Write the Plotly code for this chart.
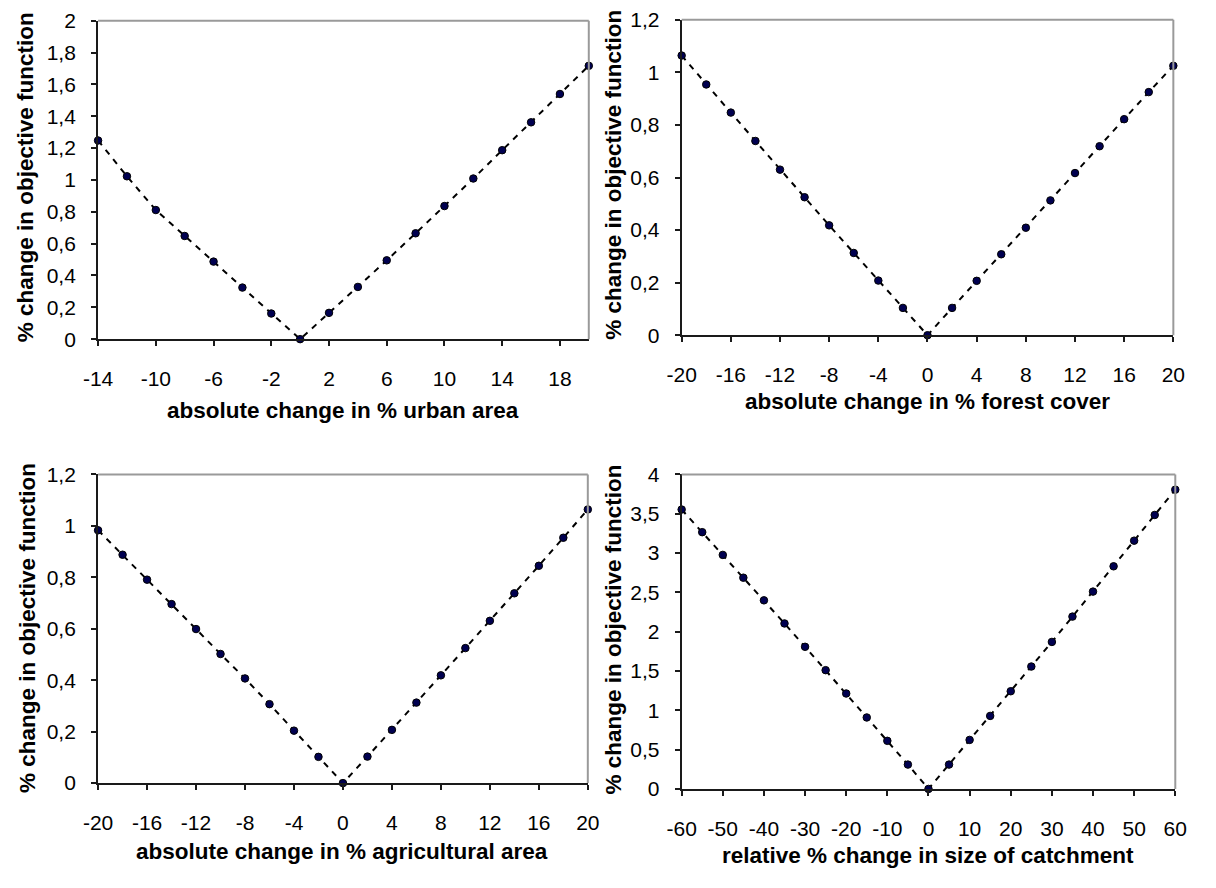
import plotly.graph_objects as go

# ---------------- data ----------------
urban_x = [-14, -12, -10, -8, -6, -4, -2, 0, 2, 4, 6, 8, 10, 12, 14, 16, 18, 20]
urban_y = [1.248, 1.023, 0.811, 0.648, 0.487, 0.324, 0.161, 0.0, 0.165, 0.328,
           0.495, 0.665, 0.836, 1.009, 1.187, 1.362, 1.540, 1.717]

forest_x = [-20, -18, -16, -14, -12, -10, -8, -6, -4, -2, 0, 2, 4, 6, 8, 10, 12, 14, 16, 18, 20]
forest_y = [1.064, 0.954, 0.847, 0.739, 0.630, 0.525, 0.418, 0.313, 0.208, 0.104, 0.0,
            0.104, 0.207, 0.308, 0.409, 0.513, 0.617, 0.719, 0.822, 0.925, 1.025]

agri_x = [-20, -18, -16, -14, -12, -10, -8, -6, -4, -2, 0, 2, 4, 6, 8, 10, 12, 14, 16, 18, 20]
agri_y = [0.983, 0.888, 0.791, 0.696, 0.599, 0.502, 0.407, 0.307, 0.204, 0.102, 0.0,
          0.103, 0.207, 0.313, 0.419, 0.525, 0.631, 0.738, 0.845, 0.954, 1.064]

catch_x = [-60, -55, -50, -45, -40, -35, -30, -25, -20, -15, -10, -5, 0,
           5, 10, 15, 20, 25, 30, 35, 40, 45, 50, 55, 60]
catch_y = [3.554, 3.266, 2.977, 2.687, 2.399, 2.105, 1.808, 1.511, 1.214, 0.909, 0.612, 0.310, 0.0,
           0.310, 0.624, 0.929, 1.243, 1.557, 1.870, 2.192, 2.510, 2.832, 3.158, 3.485, 3.807]

urban_xticks = [-14, -10, -6, -2, 2, 6, 10, 14, 18]
ag_xticks = [-20, -16, -12, -8, -4, 0, 4, 8, 12, 16, 20]
catch_xticks = [-60, -50, -40, -30, -20, -10, 0, 10, 20, 30, 40, 50, 60]

x_titles = ["absolute change in % urban area", "absolute change in % forest cover",
            "absolute change in % agricultural area", "relative % change in size of catchment"]
y_title = "% change in objective function"

# ---------------- layout geometry ----------------
# The page body keeps an 8px margin, so the figure is made 16px smaller than the
# window; positions below are in window pixels and shifted by OFF.
WIN_W, WIN_H = 1216, 888
OFF = 8
W, H = WIN_W - 2 * OFF, WIN_H - 2 * OFF

panels = [
    # (left, right, top, bottom) in window px
    (93, 595, 17, 344),
    (690, 1193, 16, 340),
    (93, 594, 483, 800),
    (690, 1195, 483, 806),
]
series = [(urban_x, urban_y, [-14, 20], urban_xticks, [0, 2], 0.2),
          (forest_x, forest_y, [-20, 20], ag_xticks, [0, 1.2], 0.2),
          (agri_x, agri_y, [-20, 20], ag_xticks, [0, 1.2], 0.2),
          (catch_x, catch_y, [-60, 60], catch_xticks, [0, 4], 0.5)]
xtitle_pos = [(344, 417), (941, 408), (343, 870), (942, 874)]
ytitle_pos = [(19, 178), (620, 175), (21, 641), (620, 642)]


def fx(p):
    return (p - OFF) / W


def fy(p):
    return 1 - (p - OFF) / H


FONT = "Liberation Sans, Arial, sans-serif"
AXIS_COLOR = "#1a1a1a"
BORDER_COLOR = "#9a9a9a"

fig = go.Figure()
annotations = []
shapes = []

for i, ((l, r, t, b), (xs, ys, xr, xt, yr, dy)) in enumerate(zip(panels, series)):
    n = i + 1
    xa = "x" if n == 1 else f"x{n}"
    ya = "y" if n == 1 else f"y{n}"
    fig.add_trace(go.Scatter(
        x=xs, y=ys, xaxis=xa, yaxis=ya, mode="lines+markers",
        line=dict(color="black", width=2, dash="6px,6px"),
        marker=dict(color="#000050", size=7.5, line=dict(color="black", width=1)),
        showlegend=False, cliponaxis=False, hoverinfo="skip"))
    common = dict(showgrid=False, zeroline=False, showline=True, linecolor=AXIS_COLOR,
                  linewidth=2, ticks="outside", ticklen=5, tickwidth=1.5,
                  tickcolor=AXIS_COLOR,
                  tickfont=dict(family=FONT, size=21, color="black"), mirror=False)
    xkey = "xaxis" if n == 1 else f"xaxis{n}"
    ykey = "yaxis" if n == 1 else f"yaxis{n}"
    fig.layout[xkey] = dict(domain=[fx(l), fx(r)], range=xr, anchor=ya,
                            tickmode="array", tickvals=xt,
                            ticktext=[str(v) for v in xt], ticklabelstandoff=15, **common)
    fig.layout[ykey] = dict(domain=[fy(b), fy(t)], range=yr, anchor=xa,
                            dtick=dy, tick0=0, ticklabelstandoff=11, **common)
    # grey top and right borders of the plot area
    shapes.append(dict(type="line", xref="paper", yref="paper",
                       x0=fx(l), x1=fx(r), y0=fy(t), y1=fy(t),
                       line=dict(color=BORDER_COLOR, width=2)))
    shapes.append(dict(type="line", xref="paper", yref="paper",
                       x0=fx(r), x1=fx(r), y0=fy(t), y1=fy(b),
                       line=dict(color=BORDER_COLOR, width=2)))
    tx, ty = xtitle_pos[i]
    annotations.append(dict(text=f"<b>{x_titles[i]}</b>", xref="paper", yref="paper",
                            x=fx(tx), y=fy(ty), showarrow=False,
                            xanchor="center", yanchor="middle",
                            font=dict(family=FONT, size=22.5, color="black")))
    yx, yy = ytitle_pos[i]
    annotations.append(dict(text=f"<b>{y_title}</b>", xref="paper", yref="paper",
                            x=fx(yx), y=fy(yy), showarrow=False, textangle=-90,
                            xanchor="center", yanchor="middle",
                            font=dict(family=FONT, size=22.5, color="black")))

fig.update_layout(width=W, height=H, margin=dict(l=0, r=0, t=0, b=0),
                  paper_bgcolor="white", plot_bgcolor="white",
                  separators=",.", annotations=annotations, shapes=shapes,
                  font=dict(family=FONT, color="black"))

fig.write_html("out.html")
